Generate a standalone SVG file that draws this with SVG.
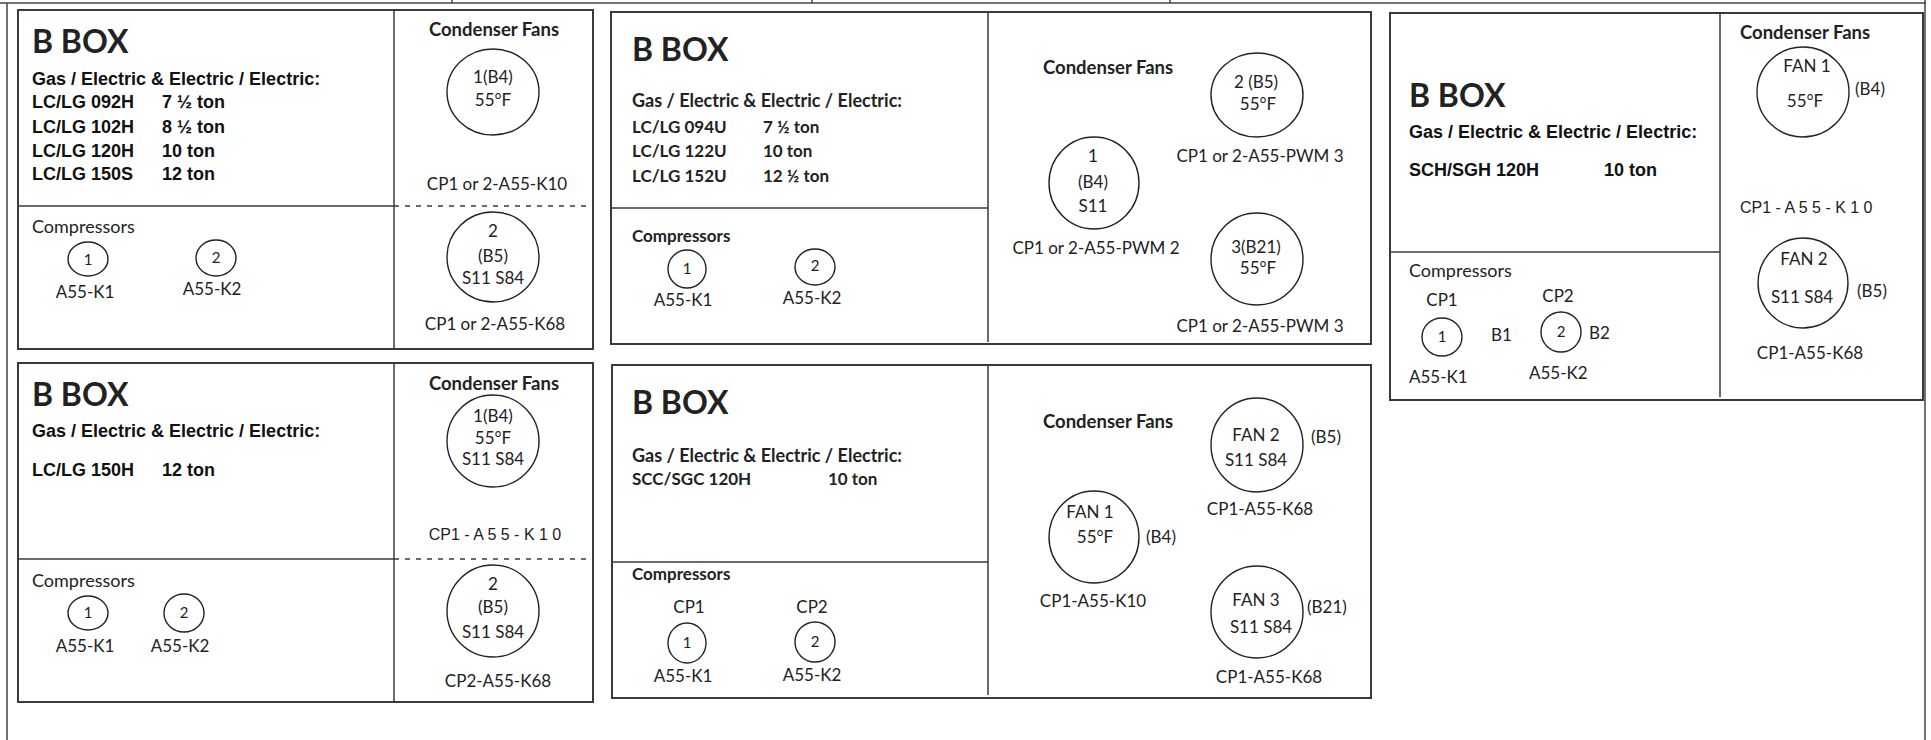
<svg xmlns="http://www.w3.org/2000/svg" width="1931" height="740" viewBox="0 0 1931 740">
<style>
.frame{fill:none;stroke:#444;stroke-width:1.5}
.box{fill:none;stroke:#3a3a3a;stroke-width:2}
.ln{stroke:#3a3a3a;stroke-width:1.5;fill:none}
.dash{stroke:#3a3a3a;stroke-width:1.5;stroke-dasharray:5 6}
.c{fill:none;stroke:#222;stroke-width:1.4}
.t{font-family:Lato,"Open Sans",sans-serif;font-size:17px;fill:#222}
.s{font-size:15px}
.cmp{font-size:18px}
.tb{font-family:Lato,"Open Sans",sans-serif;font-weight:bold;font-size:17px;fill:#222}
.cf{font-size:18.5px}
.g{font-size:18px}
.title{font-family:Lato,"Open Sans",sans-serif;font-weight:bold;font-size:32px;fill:#222}
.ab{font-family:"Liberation Sans",Arial,sans-serif;font-weight:bold;font-size:18px;fill:#111}
.a{font-family:"Liberation Sans",Arial,sans-serif;font-size:16px;fill:#222}
.m{text-anchor:middle}
</style>
<g id="frame">
<line class="frame" x1="0" y1="3" x2="1926" y2="3"/>
<line class="frame" x1="452" y1="0" x2="452" y2="3"/>
<line class="frame" x1="812" y1="0" x2="812" y2="3"/>
<line class="frame" x1="1170" y1="0" x2="1170" y2="3"/>
<line class="frame" x1="7" y1="3" x2="7" y2="740"/>
<line class="frame" x1="1925" y1="0" x2="1925" y2="740"/>
</g>
<g id="connectors"></g>

<g id="box1">
<rect class="box" x="18" y="10" width="575" height="339"/>
<line class="ln" x1="394" y1="10" x2="394" y2="349"/>
<line class="ln" x1="18" y1="206" x2="394" y2="206"/>
<line class="dash" x1="394" y1="206" x2="593" y2="206"/>
<text class="title" x="32" y="53">B BOX</text>
<text class="ab" x="32" y="85">Gas / Electric &amp; Electric / Electric:</text>
<text class="ab" x="32" y="108">LC/LG 092H</text><text class="ab" x="162" y="108">7 ½ ton</text>
<text class="ab" x="32" y="133">LC/LG 102H</text><text class="ab" x="162" y="133">8 ½ ton</text>
<text class="ab" x="32" y="157">LC/LG 120H</text><text class="ab" x="162" y="157">10 ton</text>
<text class="ab" x="32" y="180">LC/LG 150S</text><text class="ab" x="162" y="180">12 ton</text>
<text class="tb cf m" x="494" y="36">Condenser Fans</text>
<g id="box1-fan1">
<ellipse class="c" cx="493" cy="92" rx="46" ry="43"/>
<text class="t m" x="493" y="83">1(B4)</text>
<text class="t m" x="493" y="106">55°F</text>
<text class="t m" x="497" y="190">CP1 or 2-A55-K10</text>
</g>
<g id="box1-fan2">
<ellipse class="c" cx="493" cy="257" rx="46" ry="45"/>
<text class="t m" x="493" y="237">2</text>
<text class="t m" x="493" y="262">(B5)</text>
<text class="t m" x="493" y="284">S11 S84</text>
<text class="t m" x="495" y="330">CP1 or 2-A55-K68</text>
</g>
<text class="t cmp" x="32" y="233">Compressors</text>
<g id="box1-comp1">
<ellipse class="c" cx="88" cy="259" rx="20" ry="17"/>
<text class="t s m" x="88" y="265">1</text>
<text class="t m" x="85" y="298">A55-K1</text>
</g>
<g id="box1-comp2">
<ellipse class="c" cx="216" cy="258" rx="20" ry="18"/>
<text class="t s m" x="216" y="263">2</text>
<text class="t m" x="212" y="295">A55-K2</text>
</g>
</g>

<g id="box2">
<rect class="box" x="611" y="12" width="760" height="332"/>
<line class="ln" x1="988" y1="12" x2="988" y2="342"/>
<line class="ln" x1="611" y1="208" x2="988" y2="208"/>
<text class="title" x="632" y="61">B BOX</text>
<text class="tb g" x="632" y="107">Gas / Electric &amp; Electric / Electric:</text>
<text class="tb" x="632" y="133">LC/LG 094U</text><text class="tb" x="763" y="133">7 ½ ton</text>
<text class="tb" x="632" y="157">LC/LG 122U</text><text class="tb" x="763" y="157">10 ton</text>
<text class="tb" x="632" y="182">LC/LG 152U</text><text class="tb" x="763" y="182">12 ½ ton</text>
<text class="tb cf" x="1043" y="74">Condenser Fans</text>
<g id="box2-fan2">
<ellipse class="c" cx="1257" cy="95" rx="46" ry="42"/>
<text class="t m" x="1256" y="88">2 (B5)</text>
<text class="t m" x="1258" y="110">55°F</text>
<text class="t m" x="1260" y="162">CP1 or 2-A55-PWM 3</text>
</g>
<g id="box2-fan1">
<ellipse class="c" cx="1094" cy="183" rx="45" ry="46"/>
<text class="t m" x="1093" y="162">1</text>
<text class="t m" x="1093" y="188">(B4)</text>
<text class="t m" x="1093" y="212">S11</text>
<text class="t m" x="1096" y="254">CP1 or 2-A55-PWM 2</text>
</g>
<g id="box2-fan3">
<ellipse class="c" cx="1257" cy="259" rx="46" ry="46"/>
<text class="t m" x="1256" y="253">3(B21)</text>
<text class="t m" x="1258" y="274">55°F</text>
<text class="t m" x="1260" y="332">CP1 or 2-A55-PWM 3</text>
</g>
<text class="tb" x="632" y="242">Compressors</text>
<g id="box2-comp1">
<ellipse class="c" cx="687" cy="269" rx="19" ry="19"/>
<text class="t s m" x="687" y="274">1</text>
<text class="t m" x="683" y="306">A55-K1</text>
</g>
<g id="box2-comp2">
<ellipse class="c" cx="815" cy="267" rx="20" ry="18"/>
<text class="t s m" x="815" y="271">2</text>
<text class="t m" x="812" y="304">A55-K2</text>
</g>
</g>

<g id="box3">
<rect class="box" x="1390" y="13" width="533" height="387"/>
<line class="ln" x1="1720" y1="13" x2="1720" y2="397"/>
<line class="ln" x1="1390" y1="252" x2="1720" y2="252"/>
<text class="title" x="1409" y="107">B BOX</text>
<text class="ab" x="1409" y="138">Gas / Electric &amp; Electric / Electric:</text>
<text class="ab" x="1409" y="176">SCH/SGH 120H</text><text class="ab" x="1604" y="176">10 ton</text>
<text class="tb cf" x="1740" y="39">Condenser Fans</text>
<g id="box3-fan1">
<ellipse class="c" cx="1803" cy="92" rx="46" ry="45"/>
<text class="t m" x="1807" y="72">FAN 1</text>
<text class="t m" x="1805" y="107">55°F</text>
<text class="t" x="1855" y="95">(B4)</text>
<text class="a" x="1740" y="213">CP1 - A 5 5 - K 1 0</text>
</g>
<g id="box3-fan2">
<ellipse class="c" cx="1803" cy="283" rx="45" ry="45"/>
<text class="t m" x="1804" y="265">FAN 2</text>
<text class="t m" x="1802" y="303">S11 S84</text>
<text class="t" x="1857" y="297">(B5)</text>
<text class="t m" x="1810" y="359">CP1-A55-K68</text>
</g>
<text class="t cmp" x="1409" y="277">Compressors</text>
<g id="box3-comp1">
<text class="t m" x="1442" y="306">CP1</text>
<ellipse class="c" cx="1442" cy="337" rx="20" ry="19"/>
<text class="t s m" x="1442" y="342">1</text>
<text class="t" x="1491" y="341">B1</text>
<text class="t" x="1409" y="383">A55-K1</text>
</g>
<g id="box3-comp2">
<text class="t m" x="1558" y="302">CP2</text>
<ellipse class="c" cx="1561" cy="332" rx="20" ry="20"/>
<text class="t s m" x="1561" y="337">2</text>
<text class="t" x="1589" y="339">B2</text>
<text class="t" x="1529" y="379">A55-K2</text>
</g>
</g>

<g id="box4">
<rect class="box" x="18" y="363" width="575" height="339"/>
<line class="ln" x1="394" y1="363" x2="394" y2="702"/>
<line class="ln" x1="18" y1="559" x2="394" y2="559"/>
<line class="dash" x1="394" y1="559" x2="593" y2="559"/>
<text class="title" x="32" y="406">B BOX</text>
<text class="ab" x="32" y="437">Gas / Electric &amp; Electric / Electric:</text>
<text class="ab" x="32" y="476">LC/LG 150H</text><text class="ab" x="162" y="476">12 ton</text>
<text class="tb cf m" x="494" y="390">Condenser Fans</text>
<g id="box4-fan1">
<ellipse class="c" cx="493" cy="441" rx="46" ry="46"/>
<text class="t m" x="493" y="422">1(B4)</text>
<text class="t m" x="493" y="444">55°F</text>
<text class="t m" x="493" y="465">S11 S84</text>
<text class="a m" x="495" y="540">CP1 - A 5 5 - K 1 0</text>
</g>
<g id="box4-fan2">
<ellipse class="c" cx="493" cy="611" rx="46" ry="46"/>
<text class="t m" x="493" y="590">2</text>
<text class="t m" x="493" y="613">(B5)</text>
<text class="t m" x="493" y="638">S11 S84</text>
<text class="t m" x="498" y="687">CP2-A55-K68</text>
</g>
<text class="t cmp" x="32" y="587">Compressors</text>
<g id="box4-comp1">
<ellipse class="c" cx="88" cy="613" rx="20" ry="17"/>
<text class="t s m" x="88" y="618">1</text>
<text class="t m" x="85" y="652">A55-K1</text>
</g>
<g id="box4-comp2">
<ellipse class="c" cx="184" cy="613" rx="20" ry="19"/>
<text class="t s m" x="184" y="618">2</text>
<text class="t m" x="180" y="652">A55-K2</text>
</g>
</g>

<g id="box5">
<rect class="box" x="612" y="365" width="759" height="333"/>
<line class="ln" x1="988" y1="365" x2="988" y2="695"/>
<line class="ln" x1="612" y1="562" x2="988" y2="562"/>
<text class="title" x="632" y="414">B BOX</text>
<text class="tb g" x="632" y="462">Gas / Electric &amp; Electric / Electric:</text>
<text class="tb" x="632" y="485">SCC/SGC 120H</text><text class="tb" x="828" y="485">10 ton</text>
<text class="tb cf" x="1043" y="428">Condenser Fans</text>
<g id="box5-fan2">
<ellipse class="c" cx="1257" cy="445" rx="46" ry="47"/>
<text class="t m" x="1256" y="441">FAN 2</text>
<text class="t m" x="1256" y="466">S11 S84</text>
<text class="t" x="1311" y="443">(B5)</text>
<text class="t m" x="1260" y="515">CP1-A55-K68</text>
</g>
<g id="box5-fan1">
<ellipse class="c" cx="1094" cy="537" rx="45" ry="46"/>
<text class="t m" x="1090" y="518">FAN 1</text>
<text class="t m" x="1095" y="543">55°F</text>
<text class="t" x="1146" y="543">(B4)</text>
<text class="t m" x="1093" y="607">CP1-A55-K10</text>
</g>
<g id="box5-fan3">
<ellipse class="c" cx="1257" cy="612" rx="46" ry="46"/>
<text class="t m" x="1256" y="606">FAN 3</text>
<text class="t m" x="1261" y="633">S11 S84</text>
<text class="t" x="1307" y="613">(B21)</text>
<text class="t m" x="1269" y="683">CP1-A55-K68</text>
</g>
<text class="tb" x="632" y="580">Compressors</text>
<g id="box5-comp1">
<text class="t m" x="689" y="613">CP1</text>
<ellipse class="c" cx="687" cy="643" rx="19" ry="20"/>
<text class="t s m" x="687" y="648">1</text>
<text class="t m" x="683" y="682">A55-K1</text>
</g>
<g id="box5-comp2">
<text class="t m" x="812" y="613">CP2</text>
<ellipse class="c" cx="815" cy="642" rx="20" ry="20"/>
<text class="t s m" x="815" y="647">2</text>
<text class="t m" x="812" y="681">A55-K2</text>
</g>
</g>
</svg>
